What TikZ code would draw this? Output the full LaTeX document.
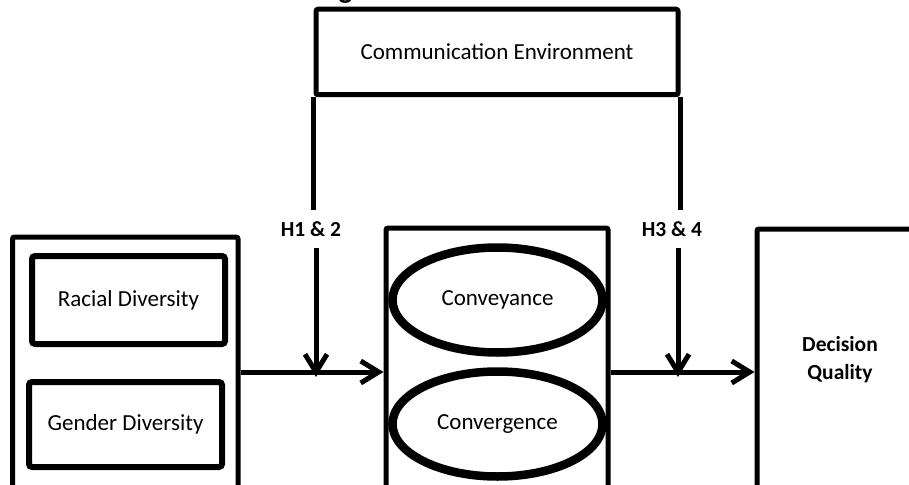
\documentclass[tikz,border=0pt]{standalone}
\usepackage{fontspec}
\setmainfont{Carlito}
\usetikzlibrary{arrows.meta,shapes.geometric}

\begin{document}
\begin{tikzpicture}[x=1pt,y=-1pt,
  frame/.style={draw, line width=5pt, rounded corners=2pt, inner sep=0pt},
  inbox/.style={draw, line width=6pt, rounded corners=3pt, inner sep=0pt,
    minimum width=193pt, font=\fontsize{23}{27}\selectfont},
  oval/.style={draw, ellipse, line width=8.5pt, inner sep=0pt,
    minimum width=210pt, minimum height=105pt, font=\fontsize{23}{27}\selectfont},
  hyp/.style={font=\bfseries\fontsize{21.5}{28}\selectfont, inner sep=0pt,
    minimum height=38pt},
  link/.style={line width=5pt},
  arr/.style={line width=5pt, -{Straight Barb[length=18pt,width=22pt]}},
]
\useasboundingbox (0,0) rectangle (909,484);
\clip (0,0) rectangle (909,484);

% title, mostly above the page edge
\node[anchor=base west, inner sep=0pt, font=\bfseries\fontsize{29}{34}\selectfont]
  (title) at (318,-1.5) {Figure 1: Theoretical Model};

% moderator box
\node[frame, minimum width=362pt, minimum height=85.5pt,
  font=\fontsize{23}{27}\selectfont] (env) at (497,52) {Communication Environment};

% diversity group
\node[frame, minimum width=225.5pt, minimum height=263pt] (grp) at (125.25,368.5) {};
\node[inbox, minimum height=88pt] (race) at (128.5,300) {Racial Diversity};
\node[inbox, minimum height=85pt] (gender) at (125.5,424.5) {Gender Diversity};

% communication processes
\node[frame, minimum width=222pt, minimum height=272pt] (proc) at (497,364) {};
\node[oval] (convey) at (497.5,300) {Conveyance};
\node[oval] (conver) at (497.5,424) {Convergence};

% outcome
\node[frame, minimum width=166pt, minimum height=261pt, align=center,
  font=\bfseries\fontsize{21.5}{28}\selectfont] (dq) at (840,359.5) {Decision\\Quality};

% hypothesis labels
\node[hyp] (h12) at (311,229) {H1 \& 2};
\node[hyp] (h34) at (672,229) {H3 \& 4};

% points where the moderator arrows meet the main path
\coordinate (m1) at (316,372);
\coordinate (m2) at (678,372);

% main path
\draw[arr] (grp.east |- m1) -- (proc.west |- m1);
\draw[arr] (proc.east |- m2) -- (dq.west |- m2);

% moderator legs
\draw[link] (env.south west) -- (env.south west |- h12.north);
\draw[link] (env.south east) -- (env.south east |- h34.north);
\draw[arr] (m1 |- h12.south) -- ([yshift=-5pt]m1);
\draw[arr] (m2 |- h34.south) -- ([yshift=-5pt]m2);
\end{tikzpicture}
\end{document}
